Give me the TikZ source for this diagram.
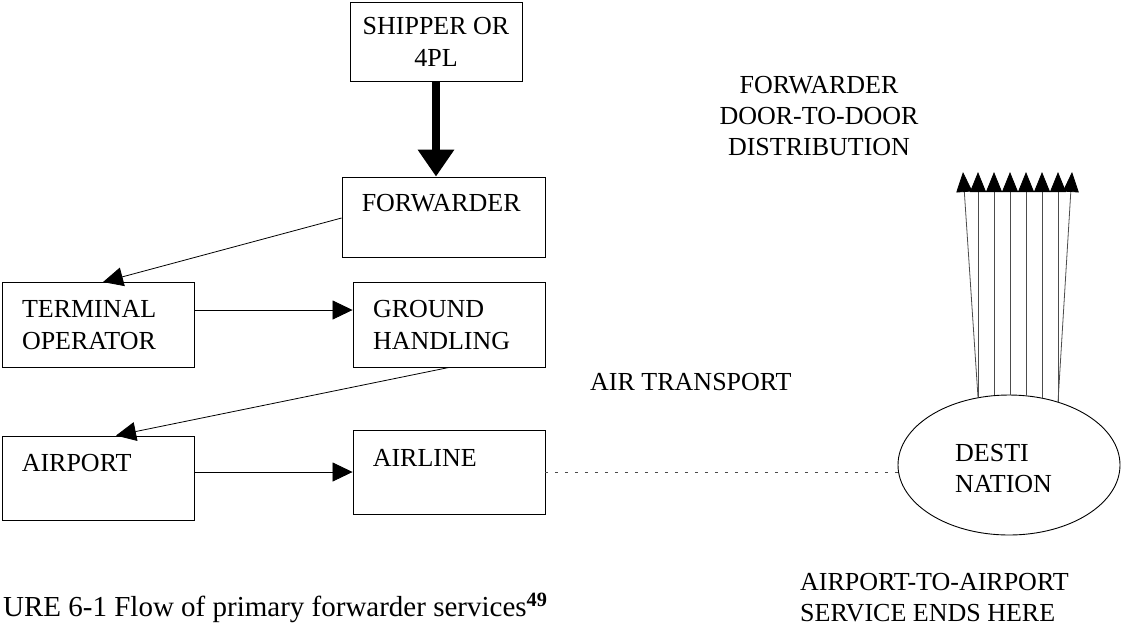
\documentclass[tikz,border=0pt]{standalone}
\usepackage{fontspec}
\setmainfont{Liberation Serif}
\usetikzlibrary{arrows.meta,shapes.geometric,calc}
\begin{document}
\begin{tikzpicture}[x=1pt,y=-1pt,
  txt/.style={font=\fontsize{26}{31}\selectfont, inner sep=0pt},
  lbl/.style={txt, anchor=base west},
  box/.style={draw, line width=0.9pt, rectangle, inner sep=0pt, font=\fontsize{26}{32}\selectfont},
  arr/.style={line width=0.8pt, -{Triangle[length=20pt,width=19pt]}},
  bigarrow/.style={line width=7.5pt, -{Triangle[length=27pt,width=35pt]}},
  fanarr/.style={line width=0.8pt, draw=black!70, -{Triangle[length=20pt,width=16pt,color=black]}},
  dotline/.style={line width=0.6pt, draw=black!70, dash pattern=on 3pt off 7pt},
]
\useasboundingbox (0,0) rectangle (1124,625);

% boxes
\node[box, minimum width=172pt, minimum height=79pt, align=center] (ship) at (436,41.5) {SHIPPER OR\\4PL};
\node[box, minimum width=203pt, minimum height=80pt] (fwd) at (443.5,217) {};
\node[lbl] (fwdtxt) at ($(fwd.north west)+(20,35)$) {FORWARDER};
\node[box, minimum width=192pt, minimum height=84.5pt, text width=152pt, inner xsep=20pt, align=left] (term) at (98,324.75) {TERMINAL\\OPERATOR};
\node[box, minimum width=192pt, minimum height=84.5pt, text width=152pt, inner xsep=20pt, align=left] (ground) at (449,324.75) {GROUND\\HANDLING};
\node[box, minimum width=192pt, minimum height=84pt] (airport) at (98,478) {};
\node[lbl] (airporttxt) at ($(airport.north west)+(20,35.5)$) {AIRPORT};
\node[box, minimum width=192pt, minimum height=84pt] (airline) at (449,472) {};
\node[lbl] (airlinetxt) at ($(airline.north west)+(20,37)$) {AIRLINE};

% destination
\node[draw, ellipse, line width=0.9pt, minimum width=222pt, minimum height=140pt, inner sep=0pt] (dest) at (1009,465) {};
\node[txt, align=left, anchor=west] (desttxt) at (955,469) {DESTI\\NATION};

% connectors
\draw[bigarrow] (ship.south) -- (ship.south |- fwd.north);
\draw[arr] ($(fwd.west)+(0,1)$) -- ($(term.north)+(5,0)$);
\draw[arr] ($(term.east)+(0,-14.75)$) -- ($(ground.west)+(0,-14.75)$);
\draw[arr] (ground.south) -- ($(airport.north)+(18,0)$);
\draw[arr] ($(airport.east)+(0,-6)$) -- (airline.west);
\draw[dotline] (airline.east) -- (airline.east -| dest.west);

% fan of distribution arrows
\foreach \b/\dy/\t [count=\i] in {-31/2.8/963, -31/2.8/978, -15/0.6/994, 1/0/1010, 17/0.8/1026, 33/3.2/1042, 49/7.2/1058, 49/7.2/1072}{
  \coordinate (fan\i) at (\t,172);
  \draw[fanarr] ($(dest.north)+(\b,\dy)$) -- (fan\i);
}

% labels
\node[lbl] (airtr) at (590,390) {AIR TRANSPORT};
\node[txt, align=center, anchor=north] (ftd) at (819,76) {FORWARDER\\DOOR-TO-DOOR\\DISTRIBUTION};
\node[txt, align=left, anchor=north west] (ends) at (800,573) {AIRPORT-TO-AIRPORT\\SERVICE ENDS HERE};
\node[lbl, font=\fontsize{29}{34}\selectfont] (caption) at (3,616) {URE 6-1 Flow of primary forwarder services\textsuperscript{\textbf{49}}};
\end{tikzpicture}
\end{document}
